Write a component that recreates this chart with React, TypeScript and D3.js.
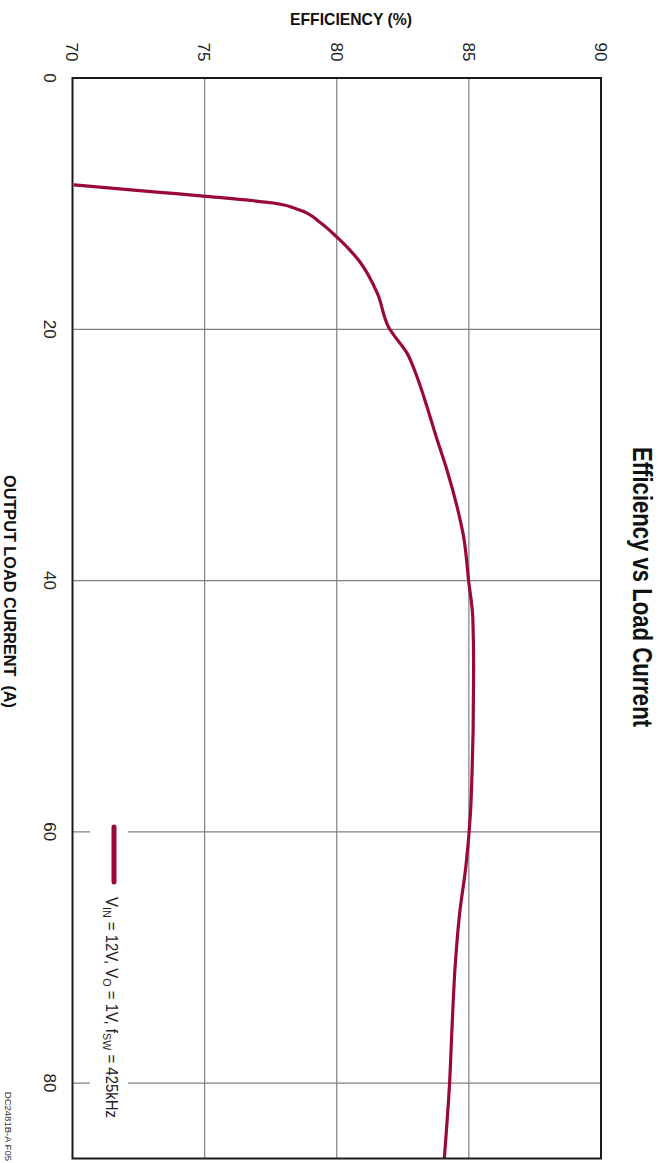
import React from "react";
import * as d3 from "d3";

const loadCurrent = [8.5, 9.1, 9.4, 9.95, 10.5, 11.5, 12.65, 14.7, 17.1, 19.9, 21.9, 23.8, 26.2, 28.8, 31.2, 34.1, 36.5, 40, 43, 47, 52, 55.3, 58.5, 62.7, 66.5, 70.4, 75.7, 80, 86];
const efficiency = [70.05, 73.3, 74.95, 77.6, 78.6, 79.37, 80.0, 80.9, 81.53, 81.98, 82.66, 83.04, 83.42, 83.8, 84.17, 84.55, 84.8, 84.99, 85.15, 85.18, 85.16, 85.12, 85.06, 84.89, 84.65, 84.49, 84.36, 84.27, 84.07];
const effTicks = [70, 75, 80, 85, 90];
const loadTicks = [0, 20, 40, 60, 80];

const W = 669;
const H = 1163;
const left = 72.5;
const right = 601;
const top = 78;
const bottom = 1158.5;

const SANS = "'Liberation Sans', Arial, sans-serif";
const RED = "#9a0a36";

export default function App() {
  const x = d3.scaleLinear().domain([70, 90]).range([left, right]);
  const y = d3.scaleLinear().domain([0, 86]).range([top, bottom]);
  const data = loadCurrent.map((c, i) => ({ c, e: efficiency[i] }));
  const line = d3
    .line<{ c: number; e: number }>()
    .x((d) => x(d.e))
    .y((d) => y(d.c))
    .curve(d3.curveMonotoneY);

  return (
    <svg width={W} height={H} style={{ position: "absolute", left: 0, top: 0, background: "#fff" }}>
      <defs>
        <clipPath id="plot">
          <rect x={left} y={top} width={right - left} height={bottom - top} />
        </clipPath>
      </defs>
      <rect x={0} y={0} width={W} height={H} fill="#fff" />
      {effTicks.slice(1, -1).map((t) => (
        <line key={"ge" + t} x1={x(t)} x2={x(t)} y1={top} y2={bottom} stroke="#808080" strokeWidth={1.2} />
      ))}
      {loadTicks.slice(1).map((t) => (
        <line key={"gl" + t} x1={left} x2={right} y1={y(t)} y2={y(t)} stroke="#808080" strokeWidth={1.2} />
      ))}
      <rect x={90} y={815} width={38} height={312} fill="#fff" />
      <path d={line(data) || ""} fill="none" stroke={RED} strokeWidth={3.2} clipPath="url(#plot)" />
      <rect x={left} y={top} width={right - left} height={bottom - top} fill="none" stroke="#1a1a1a" strokeWidth={2} />

      {effTicks.map((t) => (
        <text key={"te" + t} transform={`translate(${x(t) - 6.2},52) rotate(90)`} textAnchor="middle" fontFamily={SANS} fontSize={17} textLength={19} lengthAdjust="spacingAndGlyphs" fill="#222">
          {t}
        </text>
      ))}
      {loadTicks.map((t) => (
        <text key={"tl" + t} transform={`translate(44,${y(t)}) rotate(90)`} textAnchor="middle" fontFamily={SANS} fontSize={17} textLength={t === 0 ? 9.5 : 19} lengthAdjust="spacingAndGlyphs" fill="#222">
          {t}
        </text>
      ))}

      <text x={351} y={25} textAnchor="middle" fontFamily={SANS} fontWeight="bold" fontSize={16.5} textLength={122} lengthAdjust="spacingAndGlyphs" fill="#111">
        EFFICIENCY (%)
      </text>
      <text transform={`translate(3.5,475) rotate(90)`} fontFamily={SANS} fontWeight="bold" fontSize={16.5} textLength={233} lengthAdjust="spacingAndGlyphs" fill="#111" xmlSpace="preserve">
        OUTPUT LOAD CURRENT  (A)
      </text>
      <text transform={`translate(633,447) rotate(90)`} fontFamily={SANS} fontWeight="bold" fontSize={28} textLength={280} lengthAdjust="spacingAndGlyphs" fill="#111">
        Efficiency vs Load Current
      </text>

      <line x1={114} x2={114} y1={827} y2={882} stroke={RED} strokeWidth={5} strokeLinecap="round" />
      <text transform={`translate(106,897) rotate(90)`} fontFamily={SANS} fontSize={16} textLength={221} lengthAdjust="spacingAndGlyphs" fill="#222">
        <tspan>V</tspan>
        <tspan fontSize={11.5} dy={3}>IN</tspan>
        <tspan dy={-3}> = 12V, V</tspan>
        <tspan fontSize={11.5} dy={3}>O</tspan>
        <tspan dy={-3}> = 1V, f</tspan>
        <tspan fontSize={11.5} dy={3}>SW</tspan>
        <tspan dy={-3}> = 425kHz</tspan>
      </text>

      <text transform={`translate(4.5,1161) rotate(90)`} textAnchor="end" fontFamily={SANS} fontSize={9.5} fill="#333">
        DC2481B-A F05
      </text>
    </svg>
  );
}
